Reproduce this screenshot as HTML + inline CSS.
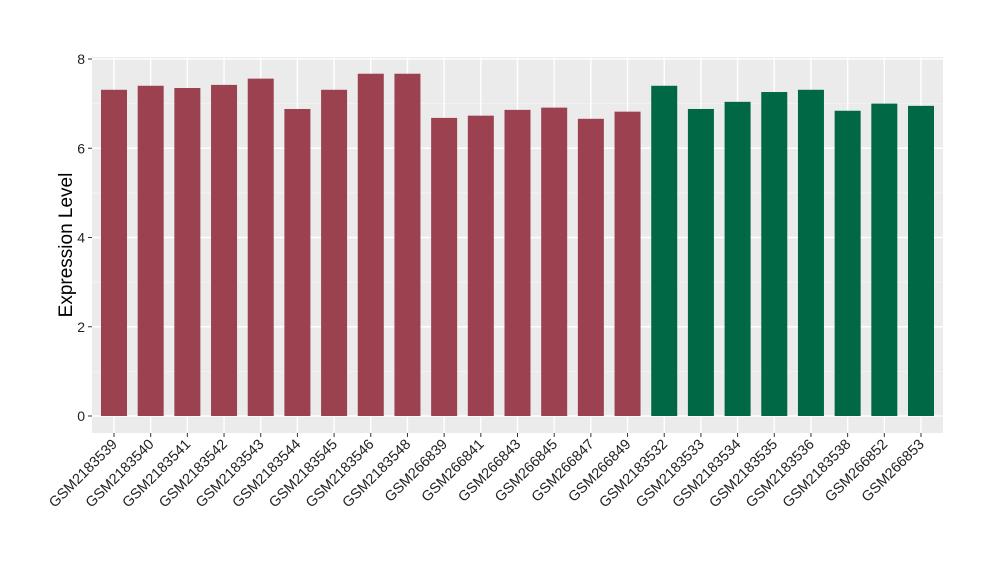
<!DOCTYPE html>
<html><head><meta charset="utf-8"><style>
html,body{margin:0;padding:0;background:#fff;}
svg text{font-family:"Liberation Sans",Arial,sans-serif;}
</style></head><body>
<svg id="chart" width="1000" height="580" viewBox="0 0 1000 580" xmlns="http://www.w3.org/2000/svg">
<rect x="92" y="57" width="851" height="376" fill="#EBEBEB"/>
<g id="grid"></g>
<g id="bars"></g>
<g id="axes"></g>
<text x="72" y="245" font-size="19" text-anchor="middle" transform="rotate(-90 72 245)" fill="#000">Expression Level</text>
</svg>
<script>
const categories=["GSM2183539","GSM2183540","GSM2183541","GSM2183542","GSM2183543","GSM2183544","GSM2183545","GSM2183546","GSM2183548","GSM266839","GSM266841","GSM266843","GSM266845","GSM266847","GSM266849","GSM2183532","GSM2183533","GSM2183534","GSM2183535","GSM2183536","GSM2183538","GSM266852","GSM266853"];
const values=[7.31,7.40,7.35,7.42,7.56,6.88,7.31,7.67,7.67,6.68,6.73,6.86,6.91,6.66,6.82,7.40,6.88,7.04,7.26,7.31,6.84,7.00,6.95];
const groups=["a","a","a","a","a","a","a","a","a","a","a","a","a","a","a","b","b","b","b","b","b","b","b"];
const yTicks=[0,2,4,6,8];
const yMinor=[1,3,5,7];
const colors={a:"#9B4150",b:"#006845"};
const NS="http://www.w3.org/2000/svg";
const x0=114,x1=921;
const step=(x1-x0)/(categories.length-1);
const xs=i=>x0+i*step;
const ys=v=>416-v*(416-59)/8;
const bw=26;
function mk(tag,attrs,parent){const e=document.createElementNS(NS,tag);for(const k in attrs)e.setAttribute(k,attrs[k]);parent.appendChild(e);return e;}
const grid=document.getElementById('grid'),bars=document.getElementById('bars'),axes=document.getElementById('axes');
yMinor.forEach(v=>{const l=mk('line',{x1:92,x2:943,y1:ys(v),y2:ys(v),stroke:"#F5F5F5","stroke-width":0.7},grid);

});
yTicks.forEach(v=>{const l=mk('line',{x1:92,x2:943,y1:ys(v),y2:ys(v),stroke:"#fff","stroke-width":1.4},grid);


const t=mk('line',{x1:88,x2:92,y1:ys(v),y2:ys(v),stroke:"#333"},axes);


const tx=mk('text',{x:85,y:ys(v)+5,"text-anchor":"end","font-size":14,fill:"#222"},axes);tx.textContent=v;

});
categories.forEach((c,i)=>{const x=xs(i);
const g=mk('line',{x1:x,x2:x,y1:57,y2:433,stroke:"#fff","stroke-width":1.4},grid);


const r=mk('rect',{x:x-bw/2,y:ys(values[i]),width:bw,height:ys(0)-ys(values[i]),fill:colors[groups[i]]},bars);


const t=mk('line',{x1:x,x2:x,y1:433,y2:437,stroke:"#333"},axes);


const tx=mk('text',{x:x+4,y:445,"text-anchor":"end","font-size":14.5,fill:"#222",transform:`rotate(-45 ${x+4} 445)`},axes);tx.textContent=c;

});
</script>
</body></html>
